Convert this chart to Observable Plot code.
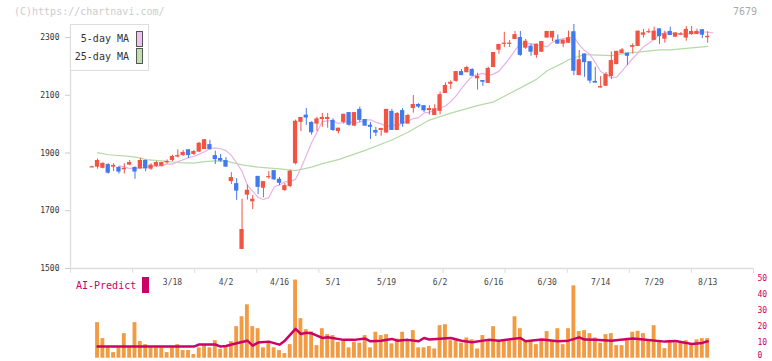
<!DOCTYPE html>
<html><head><meta charset="utf-8">
<script src="https://cdn.jsdelivr.net/npm/d3@7"></script>
<script src="https://cdn.jsdelivr.net/npm/@observablehq/plot@0.6"></script>
<style>
body{margin:0;background:#fff;}
#wrap{position:relative;width:772px;height:361px;overflow:hidden;font-family:'DejaVu Sans Mono',monospace;}
.abs{position:absolute;white-space:nowrap;}
</style></head>
<body><div id="wrap"></div>
<script>
// ---- data ----
const open = [1852,1851,1847,1860,1851,1850,1842,1858,1850,1845,
1874,1844,1854,1854,1866,1874,1886,1891,1911,1895,
1903,1912,1929,1891,1881,1874,1801,1794,1566,1754,
1731,1819,1778,1818,1839,1809,1770,1784,1863,2006,
2031,2006,2000,2016,2016,2013,1974,2006,2040,1993,
2051,2016,1996,1978,1978,1969,2044,1978,2047,2000,
2054,2068,2064,2047,2030,2044,2106,2138,2148,2182,
2178,2189,2157,2151,2141,2196,2256,2280,2280,2293,
2300,2263,2270,2238,2249,2298,2298,2291,2277,2280,
2320,2168,2243,2216,2148,2125,2131,2165,2206,2244,
2246,2266,2269,2308,2320,2290,2330,2294,2321,2301,
2308,2298,2310,2310,2327,2299];
const high = [1854,1879,1866,1863,1863,1853,1863,1874,1852,1881,
1876,1863,1871,1868,1876,1892,1911,1909,1911,1909,
1936,1946,1944,1906,1895,1884,1832,1811,1740,1789,
1753,1819,1801,1836,1839,1815,1795,1840,2014,2023,
2054,2008,2024,2037,2037,2018,1986,2034,2040,2040,
2059,2016,2006,1989,1985,2051,2051,2040,2054,2034,
2099,2071,2064,2064,2067,2111,2143,2150,2182,2189,
2200,2192,2176,2151,2197,2248,2276,2318,2290,2321,
2321,2293,2277,2277,2286,2321,2321,2309,2291,2322,
2345,2255,2243,2216,2197,2165,2179,2250,2252,2262,
2246,2278,2322,2328,2329,2336,2330,2322,2336,2316,
2317,2338,2338,2329,2327,2320];
const low = [1850,1844,1845,1827,1836,1827,1827,1856,1809,1845,
1835,1840,1850,1852,1862,1870,1883,1888,1881,1891,
1901,1912,1909,1860,1868,1851,1791,1736,1566,1737,
1704,1756,1745,1809,1805,1787,1767,1780,1859,1974,
1996,1962,1974,1989,1986,1974,1966,2000,1993,1993,
2006,1993,1947,1957,1958,1969,1978,1978,1989,2000,
2038,2054,2040,2031,2030,2032,2106,2120,2145,2168,
2178,2166,2118,2131,2141,2196,2242,2265,2265,2293,
2235,2259,2235,2228,2249,2298,2286,2277,2265,2280,
2168,2168,2162,2140,2142,2125,2131,2154,2206,2244,
2203,2243,2269,2298,2314,2290,2276,2280,2307,2301,
2308,2287,2307,2310,2296,2280];
const close = [1852,1874,1864,1830,1857,1834,1847,1867,1834,1874,
1845,1858,1867,1867,1871,1888,1891,1902,1891,1905,
1934,1946,1912,1877,1872,1851,1815,1768,1635,1771,
1740,1781,1801,1818,1807,1795,1787,1837,2010,2023,
2021,1970,2018,2023,2023,1978,1986,2034,1996,2040,
2013,1993,1989,1969,1985,2051,1978,2037,2000,2030,
2068,2059,2046,2054,2053,2102,2134,2145,2182,2168,
2196,2166,2166,2145,2193,2248,2276,2280,2280,2310,
2238,2287,2249,2277,2286,2321,2321,2277,2291,2299,
2183,2223,2213,2149,2142,2130,2172,2220,2252,2257,
2235,2272,2322,2316,2320,2322,2303,2313,2307,2316,
2313,2328,2321,2321,2308,2304];
const volume = [null,22.3,12.3,6.5,3.5,6.5,15.4,6.5,22.3,10.4,
8.5,6.5,6.5,6.5,3.5,6.5,8.5,4.8,4.8,2.3,
6.5,8.5,6.5,11,5.6,7.3,10.4,19.8,26,33.5,
19.8,18.5,6.5,10,6.5,4.8,2.9,8.5,49,24.8,
17.9,16.5,7.9,18.5,14.8,14.2,10,11.5,6.5,10,
9.4,14.2,6.5,16.3,14.2,14.8,9,12,16.3,11,
17.3,6.5,6.5,7.3,5.8,20.4,21,11,11,9.4,
12.7,11.5,5.8,14.2,11,19.8,11,11,11,26,
18.5,11,10,8.5,11,16.7,11,18.5,8.5,18.5,
45.4,16.7,17.3,15.4,12.7,9.4,14.8,15.4,7.9,7.9,
11,16.3,16.9,15.4,11,20.4,11,6,11,9.4,
10,11,8.5,11.5,12.3,12.3];
// 25-day moving average, read at candle positions
const ma25Idx = [1,3,7,9,10,13,16,19,21,23,25,28,31,35,38,41,43,46,51,56,59,63,67,72,75,81,83,85,88,89,92,97,100,102,106,108,113,115];
const ma25Val = [1901,1894,1888,1883,1877,1873,1867,1865,1870,1873,1872,1859,1851,1845,1839,1851,1863,1877,1909,1945,1972,2014,2038,2064,2077,2135,2155,2185,2212,2223,2241,2237,2246,2249,2257,2257,2266,2269];
// AI-Predict line, read at candle positions
const aiIdx = [1,19,20,23,24,25,27,29,30,31,33,35,36,38,39,40,41,43,44,47,49,51,52,54,56,57,59,61,62,63,67,69,71,74,76,80,81,84,87,89,91,92,94,97,101,103,107,109,111,112,114,115];
const aiVal = [7.3,7.3,8.6,8.6,7.3,7.7,9.4,11,7.9,9.8,10.4,8.5,11,18.4,15.2,16,15.6,12.7,13.1,11.5,11.5,12.3,10.6,11,12.1,11,11.5,10.6,12.7,11.7,12.7,11,10,11.5,11,12.7,10.6,11.7,10.6,11,13.1,11.7,11.5,11,12.3,11.7,10.4,10.8,9.6,8.9,9.6,10.6];
const labelIdx = [15,25,35,45,55,65,75,85,95,105,115];
const labelText = ["3/18","4/2","4/16","5/1","5/19","6/2","6/16","6/30","7/14","7/29","8/13"];
const priceTicks = [1500,1700,1900,2100,2300];
const volTicks = [10,20,30,40,50];
const volZero = [0];

// ---- build ----
const UP = "#f25443", DOWN = "#4179ee";
const candles = open.map((o,i) => ({i, open:o, high:high[i], low:low[i], close:close[i], vol:volume[i]}));
const ma25 = ma25Idx.map((i,k) => ({i, v: ma25Val[k]}));
const ai = aiIdx.map((i,k) => ({i, v: aiVal[k]}));
const xd = [-4.05, 123.56];
const evenTicks = d3.range(12).map(k => xd[0] + k*(xd[1]-xd[0])/11);
const col = d => d.close >= d.open ? UP : DOWN;
const font = "'DejaVu Sans Mono', monospace";

const main = Plot.plot({
  width: 772, height: 292, marginLeft: 70, marginRight: 19, marginTop: 24, marginBottom: 24,
  x: {domain: xd}, y: {domain: [1500, 2345]},
  color: {type: "identity"},
  style: {fontFamily: font, fontSize: "8px", background: "transparent", color: "#333"},
  marks: [
    Plot.ruleX([xd[0]], {stroke: "#ddd", strokeWidth: 1.3}),
    Plot.ruleY([1500], {stroke: "#ddd", strokeWidth: 1.3}),
    Plot.axisX({ticks: evenTicks, tickSize: 5, tickFormat: () => "", stroke: "#ddd", label: null}),
    Plot.axisX({ticks: labelIdx, tickSize: 0, tickPadding: 11, tickFormat: i => labelText[labelIdx.indexOf(i)], fill: "#444", label: null}),
    Plot.axisY({ticks: priceTicks, tickSize: 5, tickPadding: 6, tickFormat: d => String(d), stroke: "#ccc", fill: "#333", label: null}),
    Plot.line(ma25, {x: "i", y: "v", stroke: "#b4dba6", strokeWidth: 1.2}),
    Plot.line(candles, Plot.windowY({k: 5, anchor: "end", strict: true}, {x: d => d.i + 1, y: "close", stroke: "#e8b2ea", strokeWidth: 1.2})),
    Plot.ruleX(candles, {x: "i", y1: "low", y2: "high", stroke: col, strokeWidth: 1}),
    Plot.rect(candles, {x1: d => d.i - 0.4, x2: d => d.i + 0.4, y1: "open", y2: "close", fill: col}),
    Plot.ruleY(candles.filter(d => Math.abs(d.close - d.open) < 3), {y: "close", x1: d => d.i - 0.4, x2: d => d.i + 0.4, stroke: col, strokeWidth: 1.2})
  ]
});

const vol = Plot.plot({
  width: 772, height: 91, marginLeft: 70, marginRight: 19, marginTop: 8, marginBottom: 3.3,
  x: {domain: xd, axis: null}, y: {domain: [0, 50]},
  style: {fontFamily: font, fontSize: "8px", background: "transparent"},
  marks: [
    Plot.rect(candles.filter(d => d.vol != null), {x1: d => d.i - 0.36, x2: d => d.i + 0.36, y1: 0, y2: "vol", fill: "#f39b42"}),
    Plot.line(ai, {x: "i", y: "v", stroke: "#cc0066", strokeWidth: 2.5}),
    Plot.axisY({anchor: "right", ticks: volTicks, tickSize: 0, tickPadding: 4, fill: "#cc0066", label: null}),
    Plot.axisY({anchor: "right", ticks: volZero, tickSize: 0, tickPadding: 4, dy: -3, fill: "#cc0066", label: null})
  ]
});

const wrap = document.getElementById("wrap");
main.style.position = "absolute"; main.style.left = "0px"; main.style.top = "0px";
vol.style.position = "absolute"; vol.style.left = "0px"; vol.style.top = "270px";
wrap.appendChild(main);
wrap.appendChild(vol);

function addDiv(html, css) {
  const d = document.createElement("div");
  d.className = "abs"; d.innerHTML = html; d.style.cssText += css; wrap.appendChild(d); return d;
}
addDiv("(C)https://chartnavi.com/", "left:14px;top:6px;font-size:10px;line-height:12px;color:#ccc;");
addDiv("7679", "right:15px;top:6px;font-size:10px;line-height:12px;color:#aaa;");
addDiv("", "left:70px;top:24px;width:79px;height:47px;border:1px solid #ddd;box-sizing:border-box;background:#fff;");
addDiv("5-day MA", "right:643px;top:33px;font-size:10px;line-height:12px;color:#333;");
addDiv("25-day MA", "right:643px;top:51px;font-size:10px;line-height:12px;color:#333;");
addDiv("", "left:136px;top:31px;width:5px;height:14px;border:1px solid #555;background:#f0c0f0;");
addDiv("", "left:136px;top:48px;width:5px;height:14px;border:1px solid #555;background:#c0e0b0;");
addDiv("AI-Predict", "left:76px;top:280px;font-size:10px;line-height:12px;color:#cc0066;");
addDiv("", "left:142px;top:277px;width:7px;height:16px;background:#cc0066;");
</script></body></html>
